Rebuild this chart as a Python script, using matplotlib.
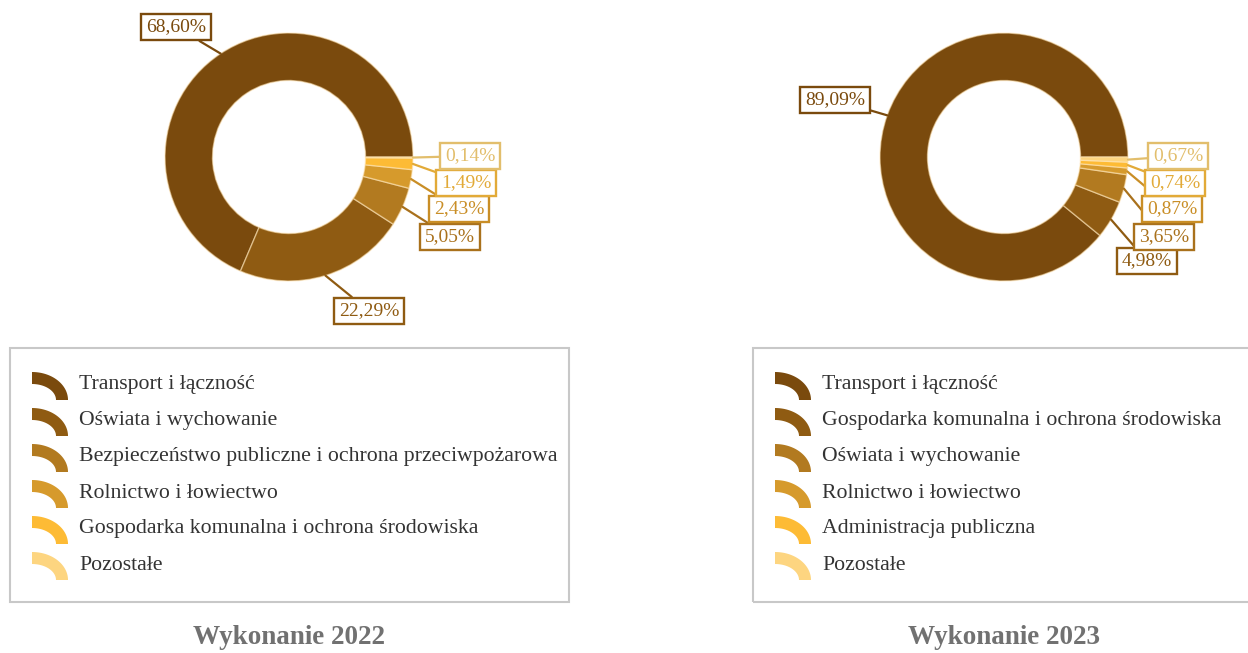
import matplotlib.pyplot as plt
import numpy as np
from matplotlib.patches import Polygon, Rectangle

plt.rcParams["font.family"] = ["Liberation Serif", "DejaVu Serif"]

W, H = 1248, 653

PALETTE = ["#7A4A0D", "#8F5B12", "#B27A20", "#D69A2C", "#FDBB35", "#FDD580"]
LABEL_COLORS = ["#7A4A0D", "#8F5B12", "#A9711C", "#C98E26", "#E2AA38", "#E2BE6C"]

categories_2022 = [
    "Transport i łączność",
    "Oświata i wychowanie",
    "Bezpieczeństwo publiczne i ochrona przeciwpożarowa",
    "Rolnictwo i łowiectwo",
    "Gospodarka komunalna i ochrona środowiska",
    "Pozostałe",
]
shares_2022 = [68.60, 22.29, 5.05, 2.43, 1.49, 0.14]

categories_2023 = [
    "Transport i łączność",
    "Gospodarka komunalna i ochrona środowiska",
    "Oświata i wychowanie",
    "Rolnictwo i łowiectwo",
    "Administracja publiczna",
    "Pozostałe",
]
shares_2023 = [89.09, 4.98, 3.65, 0.87, 0.74, 0.67]

# layout in pixels (y measured from the top)
PANELS = [
    dict(cats=categories_2022, vals=shares_2022, title="Wykonanie 2022",
         center=(289, 157), legend_x=10, legend_w=559,
         boxes=[(176, 27), (369, 311), (450, 237), (459, 209), (466, 183), (470, 156)]),
    dict(cats=categories_2023, vals=shares_2023, title="Wykonanie 2023",
         center=(1004, 157), legend_x=753, legend_w=520,
         boxes=[(835, 100), (1147, 261), (1164, 237), (1172, 209), (1175, 183), (1178, 156)]),
]
R_OUT, RING = 124, 47.5


def fy(py):
    return H - py


def arc_icon(ax, x0, y_bottom, color, rx=36, ry=28, t=12):
    th = np.linspace(np.pi / 2, 0, 40)
    outer = np.c_[x0 + rx * np.cos(th), fy(y_bottom) + ry * np.sin(th)]
    inner = np.c_[x0 + (rx - t) * np.cos(th[::-1]), fy(y_bottom) + (ry - t) * np.sin(th[::-1])]
    ax.add_patch(Polygon(np.vstack([outer, inner]), closed=True, fc=color, ec="none"))


fig = plt.figure(figsize=(W / 100, H / 100), dpi=100)
ax = fig.add_axes([0, 0, 1, 1])

for p in PANELS:
    cx, cy = p["center"]
    wedges, _ = ax.pie(p["vals"], colors=PALETTE, startangle=0, counterclock=True,
                       radius=R_OUT, center=(cx, fy(cy)),
                       wedgeprops=dict(width=RING, edgecolor=(1.0, 0.9, 0.72, 0.55),
                                       linewidth=1))
    for i, (w, v) in enumerate(zip(wedges, p["vals"])):
        mid = np.deg2rad((w.theta1 + w.theta2) / 2)
        anchor = (cx + R_OUT * np.cos(mid), fy(cy) + R_OUT * np.sin(mid))
        bx, by = p["boxes"][i]
        col = LABEL_COLORS[i]
        ax.annotate(f"{v:.2f}%".replace(".", ","), xy=anchor, xytext=(bx, fy(by)),
                    ha="center", va="center", fontsize=14, color=col,
                    bbox=dict(boxstyle="square,pad=0.24", fc="white", ec=col, lw=1.7),
                    arrowprops=dict(arrowstyle="-", color=col, lw=1.6,
                                    shrinkA=0, shrinkB=0))

    # legend panel
    ax.add_patch(Rectangle((p["legend_x"], fy(602)), p["legend_w"], 254,
                           fc="none", ec="#C8C8C8", lw=1.5))
    for i, name in enumerate(p["cats"]):
        row = 383 + 36 * i
        arc_icon(ax, p["legend_x"] + 22, row + 17, PALETTE[i])
        ax.text(p["legend_x"] + 69, fy(row + 2), name, ha="left", va="center",
                fontsize=15.7, color="#333333")

    ax.text(cx, fy(638), p["title"], ha="center", va="center", fontsize=19.5,
            fontweight="bold", color="#717171")

ax.set_xlim(0, W)
ax.set_ylim(0, H)
ax.set_aspect("auto")
ax.axis("off")

fig.savefig("out.png", dpi=100, facecolor="white")
